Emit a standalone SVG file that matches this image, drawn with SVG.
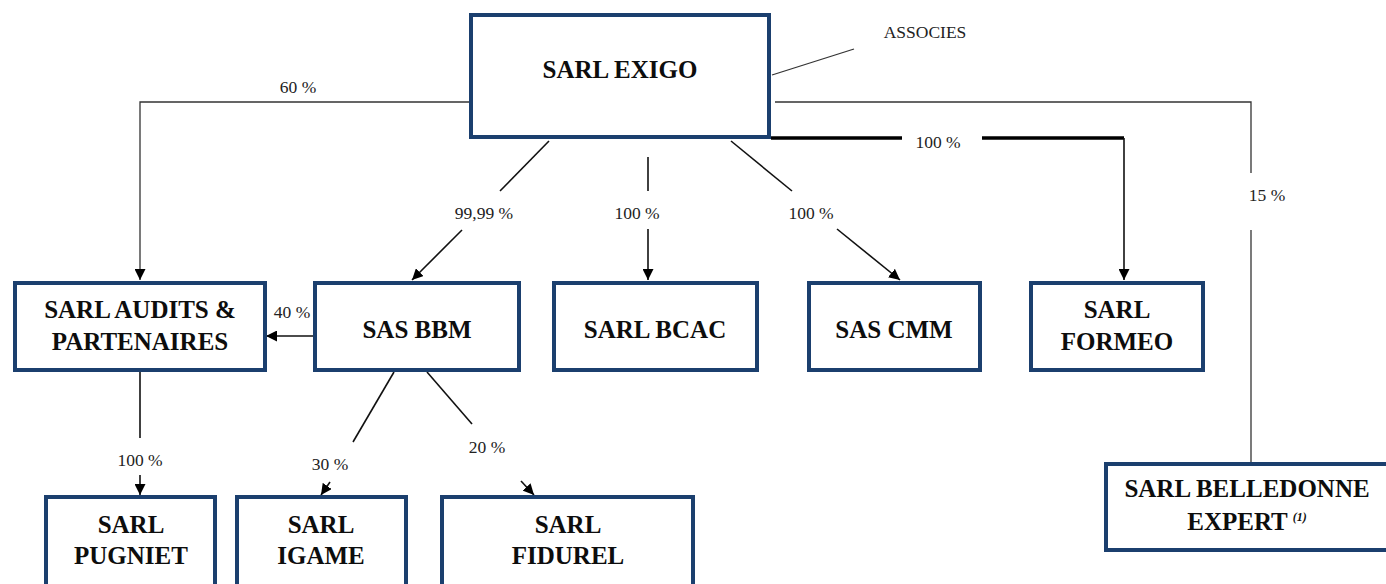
<svg xmlns="http://www.w3.org/2000/svg" width="1386" height="584" viewBox="0 0 1386 584">
<style>
.box{fill:#fff;stroke:#1b3f6e;stroke-width:4}
.nt{font-weight:bold;font-size:25px;fill:#0d0d0d;text-anchor:middle}
.lb{font-size:17.5px;fill:#222;text-anchor:middle}
.ln{fill:none;stroke:#111;stroke-width:1.6}
.thin{fill:none;stroke:#333;stroke-width:1.3}
.thick{fill:none;stroke:#000;stroke-width:3.5}
</style>
<defs>
<marker id="arr" viewBox="0 0 10 10" refX="10" refY="5" markerWidth="11" markerHeight="11" markerUnits="userSpaceOnUse" orient="auto">
<path d="M0,0 L10,5 L0,10 z" fill="#000"/>
</marker>
</defs>
<g font-family="Liberation Serif, Times New Roman, Times, serif">
<g id="connectors">
<line class="thin" x1="772" y1="75" x2="854" y2="49"/>
<text class="lb" x="925" y="38" font-size="18.5">ASSOCIES</text>
<polyline class="thin" points="474,102 140,102 140,280" marker-end="url(#arr)"/>
<text class="lb" x="298" y="93">60 %</text>
<polyline class="thin" points="775,102 1251,102 1251,173"/>
<line class="thin" x1="1251" y1="230" x2="1251" y2="462"/>
<text class="lb" x="1267" y="201">15 %</text>
<line class="thick" x1="771" y1="138" x2="902" y2="138"/>
<polyline class="thick" points="982,138 1124,138"/>
<line class="ln" x1="1124" y1="138" x2="1124" y2="280" stroke-width="1.8" marker-end="url(#arr)"/>
<text class="lb" x="938" y="148">100 %</text>
<line class="ln" x1="549" y1="141" x2="500" y2="191"/>
<line class="ln" x1="462" y1="230" x2="412" y2="280" marker-end="url(#arr)"/>
<text class="lb" x="484" y="219">99,99 %</text>
<line class="ln" x1="648" y1="157" x2="648" y2="191"/>
<line class="ln" x1="648" y1="229" x2="648" y2="280" marker-end="url(#arr)"/>
<text class="lb" x="637" y="219">100 %</text>
<line class="ln" x1="731" y1="141" x2="792" y2="191"/>
<line class="ln" x1="837" y1="229" x2="900" y2="280" marker-end="url(#arr)"/>
<text class="lb" x="811" y="219">100 %</text>
<line class="ln" x1="313" y1="336" x2="266" y2="336" marker-end="url(#arr)"/>
<text class="lb" x="292" y="318">40 %</text>
<line class="ln" x1="140" y1="372" x2="140" y2="438"/>
<line class="ln" x1="140" y1="475" x2="140" y2="495" marker-end="url(#arr)"/>
<text class="lb" x="140" y="466">100 %</text>
<line class="ln" x1="394" y1="372" x2="353" y2="442"/>
<line class="ln" x1="330" y1="482" x2="321" y2="495" marker-end="url(#arr)"/>
<text class="lb" x="330" y="470">30 %</text>
<line class="ln" x1="427" y1="372" x2="472" y2="424"/>
<line class="ln" x1="521" y1="481" x2="534" y2="495" marker-end="url(#arr)"/>
<text class="lb" x="487" y="453">20 %</text>
</g>
<g id="exigo"><rect class="box" x="471" y="15" width="298" height="122"/><text class="nt" x="620" y="78">SARL EXIGO</text></g>
<g id="audits"><rect class="box" x="15" y="283" width="250" height="87"/><text class="nt" x="140" y="318">SARL AUDITS &amp;</text><text class="nt" x="140" y="350">PARTENAIRES</text></g>
<g id="bbm"><rect class="box" x="315" y="283" width="204" height="87"/><text class="nt" x="417" y="338">SAS BBM</text></g>
<g id="bcac"><rect class="box" x="554" y="283" width="203" height="87"/><text class="nt" x="655" y="338">SARL BCAC</text></g>
<g id="cmm"><rect class="box" x="809" y="283" width="171" height="87"/><text class="nt" x="894" y="338">SAS CMM</text></g>
<g id="formeo"><rect class="box" x="1031" y="283" width="172" height="87"/><text class="nt" x="1117" y="318">SARL</text><text class="nt" x="1117" y="350">FORMEO</text></g>
<g id="pugniet"><rect class="box" x="46" y="497" width="169" height="120"/><text class="nt" x="131" y="533">SARL</text><text class="nt" x="131" y="564">PUGNIET</text></g>
<g id="igame"><rect class="box" x="237" y="497" width="169" height="120"/><text class="nt" x="321" y="533">SARL</text><text class="nt" x="321" y="564">IGAME</text></g>
<g id="fidurel"><rect class="box" x="442" y="497" width="251" height="120"/><text class="nt" x="568" y="533">SARL</text><text class="nt" x="568" y="564">FIDUREL</text></g>
<g id="belledonne"><rect class="box" x="1106" y="464" width="300" height="86"/><text class="nt" x="1247" y="497">SARL BELLEDONNE</text><text class="nt" x="1247" y="530">EXPERT<tspan dx="5" dy="-9" font-size="12" font-style="italic">(1)</tspan></text></g>
</g>
</svg>
